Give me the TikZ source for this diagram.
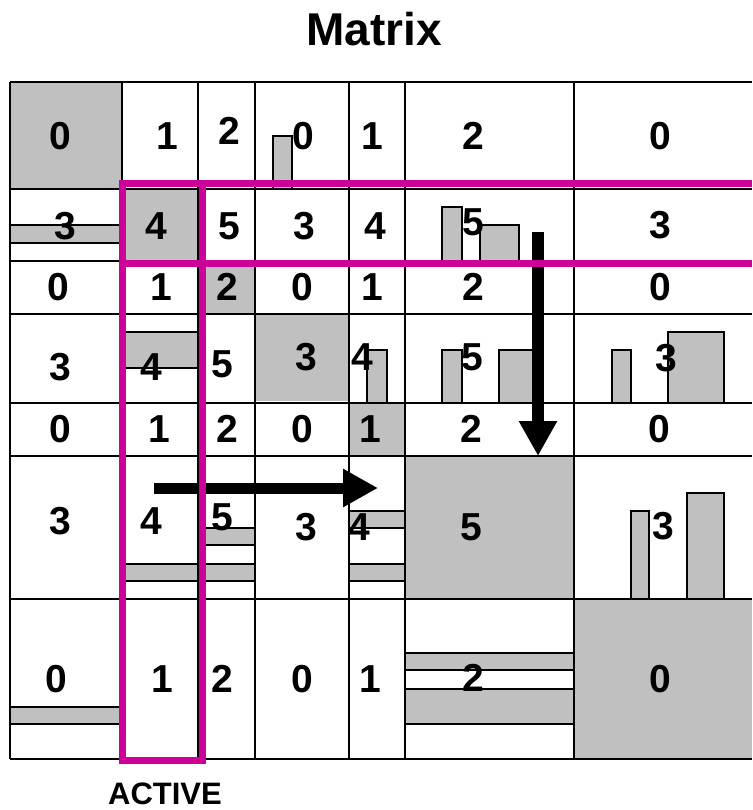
\documentclass[tikz,border=0pt]{standalone}
\usepackage{fontspec}
\setmainfont{Liberation Sans}
\usetikzlibrary{arrows.meta}

\definecolor{cellgray}{RGB}{192,192,192}
\definecolor{activemag}{RGB}{204,0,153}

\begin{document}
\begin{tikzpicture}[x=1pt,y=-1pt,line join=miter,
    num/.style={font=\fontsize{39}{39}\selectfont\bfseries,inner sep=0pt},
    bar/.style={fill=cellgray,draw=black,line width=1.5pt},
    gridline/.style={line width=2pt},
    activeline/.style={draw=activemag,line width=7pt},
    bigarrow/.style={-{Triangle[length=35pt,width=36pt]}}]
            \useasboundingbox (0,0) rectangle (752,810);

            % shaded cells
            \fill[cellgray] (10,82) rectangle (122,189);
            \fill[cellgray] (122,189) rectangle (198,261);
            \fill[cellgray] (198,261) rectangle (255,314);
            \fill[cellgray] (255,313) rectangle (349,401);
            \fill[cellgray] (349,403) rectangle (405,456);
            \fill[cellgray] (405,456) rectangle (574,599);
            \fill[cellgray] (574,599) rectangle (752,759);

            % bars
            \draw[bar] (273,136) rectangle (292,189);
            \draw[bar] (10,225) rectangle (122,243);
            \draw[bar] (442,207) rectangle (462,261);
            \draw[bar] (480,225) rectangle (519,261);
            \draw[bar] (122,332) rectangle (198,368);
            \draw[bar] (367,350) rectangle (387,403);
            \draw[bar] (442,350) rectangle (462,403);
            \draw[bar] (499,350) rectangle (536,403);
            \draw[bar] (612,350) rectangle (631,403);
            \draw[bar] (668,332) rectangle (724,403);
            \draw[bar] (198,528) rectangle (255,545);
            \draw[bar] (122,564) rectangle (255,581);
            \draw[bar] (349,511) rectangle (405,528);
            \draw[bar] (349,564) rectangle (405,581);
            \draw[bar] (631,511) rectangle (649,599);
            \draw[bar] (687,493) rectangle (724,599);
            \draw[bar] (10,707) rectangle (122,724);
            \draw[bar] (405,653) rectangle (574,670);
            \draw[bar] (405,689) rectangle (574,724);

            % grid
            \foreach \gx in {10,122,198,255,349,405,574}
                \draw[gridline] (\gx,82) -- (\gx,759);
            \foreach \gy in {82,189,261,314,403,456,599,759}
                \draw[gridline] (10,\gy) -- (752,\gy);

            % entries
            \foreach \x/\y/\t [count=\i] in {60/136/0,167/136/1,229/131/2,303/136/0,372/136/1,473/136/2,660/136/0}
                \node[num] (ra\i) at (\x,\y) {\t};
            \foreach \x/\y/\t [count=\i] in {65/226/3,156/226/4,229/226/5,304/226/3,375/226/4,473/222/5,660/225/3}
                \node[num] (rb\i) at (\x,\y) {\t};
            \foreach \x/\y/\t [count=\i] in {58/287/0,161/287/1,227/287/2,302/287/0,372/287/1,473/287/2,660/287/0}
                \node[num] (rc\i) at (\x,\y) {\t};
            \foreach \x/\y/\t [count=\i] in {60/367/3,151/367/4,222/364/5,306/357/3,362/357/4,472/357/5,666/358/3}
                \node[num] (rd\i) at (\x,\y) {\t};
            \foreach \x/\y/\t [count=\i] in {60/429/0,159/429/1,227/429/2,302/429/0,370/429/1,471/429/2,659/429/0}
                \node[num] (re\i) at (\x,\y) {\t};
            \foreach \x/\y/\t [count=\i] in {60/521/3,151/521/4,222/517/5,306/527/3,359/527/4,471/527/5,663/526/3}
                \node[num] (rf\i) at (\x,\y) {\t};
            \foreach \x/\y/\t [count=\i] in {56/679/0,162/679/1,222/679/2,302/679/0,370/679/1,473/678/2,660/679/0}
                \node[num] (rg\i) at (\x,\y) {\t};

            % sweep arrows
            \coordinate (downstart) at (538,232);
            \coordinate (downend) at (538,456);
            \coordinate (rightstart) at (154,488);
            \coordinate (rightend) at (378,488);
            \draw[bigarrow,line width=12pt] (downstart) -- (downend);
            \draw[bigarrow,line width=11pt] (rightstart) -- (rightend);

            % active row and column
            \draw[activeline] (122,184) rectangle (202,760);
            \draw[activeline] (752,184) -- (122,184) -- (122,263) -- (752,263);

            \node[font=\fontsize{46}{46}\selectfont\bfseries,inner sep=0pt] (title) at (374,29) {Matrix};
            \node[font=\fontsize{31}{31}\selectfont\bfseries,inner sep=0pt] (active) at (165,794) {ACTIVE};
        \end{tikzpicture}
\end{document}
